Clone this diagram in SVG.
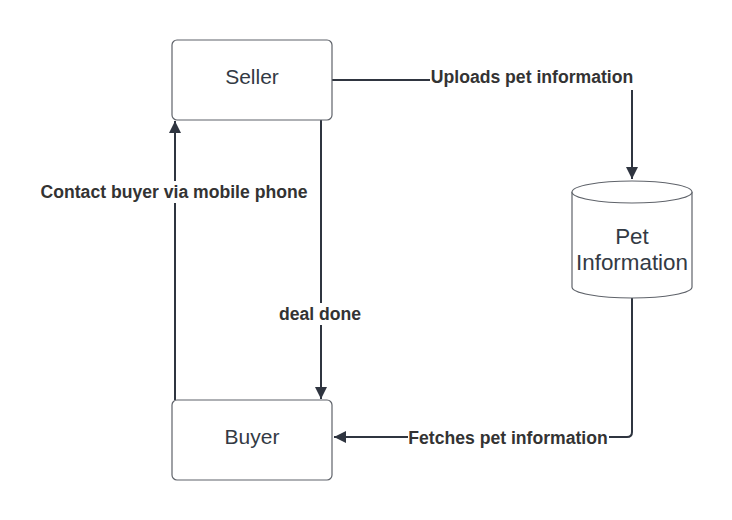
<svg xmlns="http://www.w3.org/2000/svg" width="732" height="520" viewBox="0 0 732 520">
<defs>
<style>
.node{fill:#ffffff;stroke:#5f636a;stroke-width:1.2}
.ntext{font-family:"Liberation Sans",Arial,sans-serif;font-size:21px;fill:#333a44;text-anchor:middle}
.big{font-size:22.4px}
.edge{fill:none;stroke:#2f3540;stroke-width:2}
.lbl{font-family:"Liberation Sans",Arial,sans-serif;font-size:17.6px;font-weight:bold;fill:#333333;text-anchor:middle}
.lblbg{fill:#ffffff}
</style>
<marker id="arr" viewBox="0 0 10 10" refX="10" refY="5" markerWidth="6.5" markerHeight="6" markerUnits="strokeWidth" orient="auto">
<path d="M0,0 L10,5 L0,10 z" fill="#2f3540"/>
</marker>
</defs>
<rect width="732" height="520" fill="#ffffff"/>
<g id="connectors">
<path class="edge" d="M332,80 H632 V179" marker-end="url(#arr)"/>
<path class="edge" d="M632,298 V432 Q632,437 627,437 H334" marker-end="url(#arr)"/>
<path class="edge" d="M321,120 V399" marker-end="url(#arr)"/>
<path class="edge" d="M175,400 V121" marker-end="url(#arr)"/>
<rect class="lblbg" x="430" y="66" width="204" height="24"/>
<text class="lbl" x="532" y="83">Uploads pet information</text>
<rect class="lblbg" x="408" y="427" width="201" height="21"/>
<text class="lbl" x="508" y="444">Fetches pet information</text>
<rect class="lblbg" x="279" y="303" width="83" height="22"/>
<text class="lbl" x="320" y="320">deal done</text>
<rect class="lblbg" x="40" y="181" width="268" height="22"/>
<text class="lbl" x="174" y="198">Contact buyer via mobile phone</text>
</g>
<g id="seller">
<rect class="node" x="172" y="40" width="160" height="80" rx="5"/>
<text class="ntext" x="252" y="84">Seller</text>
</g>
<g id="buyer">
<rect class="node" x="172" y="400" width="160" height="80" rx="5"/>
<text class="ntext" x="252" y="444">Buyer</text>
</g>
<g id="pet-information">
<path class="node" d="M572,192 A60,11 0 0 1 692,192 V287 A60,11 0 0 1 572,287 Z"/>
<path class="node" fill="none" d="M572,192 A60,11 0 0 0 692,192"/>
<text class="ntext big" x="632" y="244">Pet</text>
<text class="ntext big" x="632" y="270">Information</text>
</g>
</svg>
